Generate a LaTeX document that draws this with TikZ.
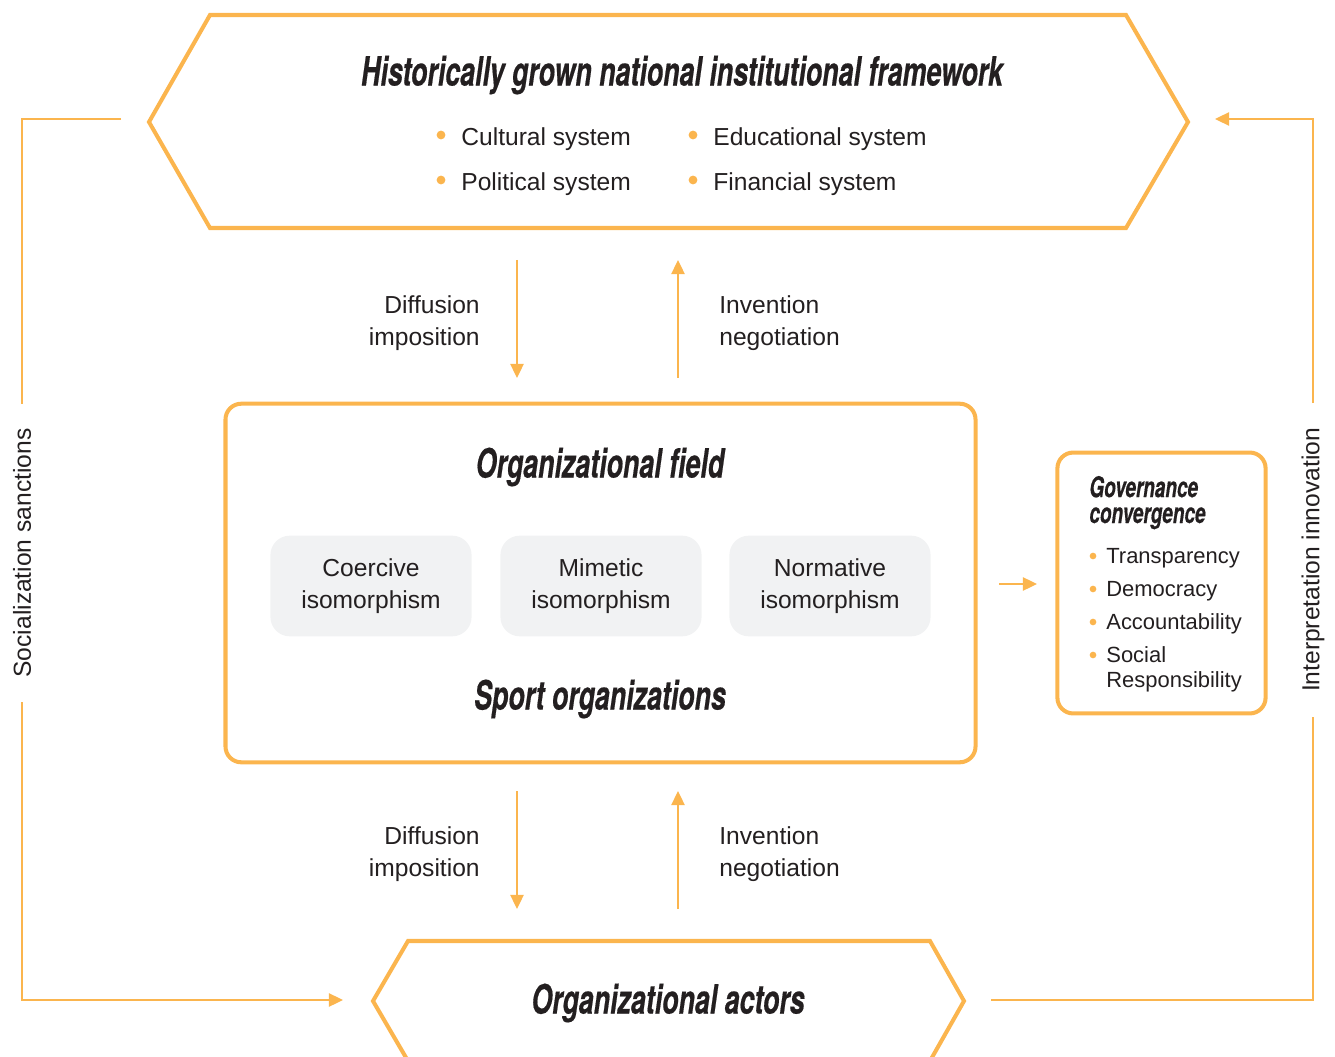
\documentclass[tikz,border=0pt]{standalone}
\usepackage{fontspec}
\setmainfont{Liberation Sans}
\newfontfamily\headfont[FakeStretch=0.663, FakeBold=0.4]{TeX Gyre Heros}
\usetikzlibrary{arrows.meta,positioning}
\definecolor{amber}{HTML}{FBB54E}
\definecolor{ink}{HTML}{231F20}
\definecolor{chip}{HTML}{F1F2F3}

\begin{document}
\begin{tikzpicture}[x=0.02cm, y=-0.02cm,
  every node/.style={text=ink, inner sep=0pt, font=\fontsize{14}{18.4}\selectfont},
  frame/.style={draw=amber, line width=2.3pt},
  flow/.style={amber, line width=1.1pt, -{Triangle[length=8pt,width=7.5pt]}},
  feedback/.style={amber, line width=1.1pt},
  headline/.style={font=\headfont\bfseries\itshape\fontsize{23}{27}\selectfont},
  chipbox/.style={fill=chip, rounded corners=11pt, minimum width=114.5pt,
    minimum height=57.3pt, align=center},
  bullet/.style={fill=amber}]
  \useasboundingbox (0,0) rectangle (1335,1057);

  % national framework (top) and actors (bottom)
  \draw[frame] (210,15) -- (1126,15) -- (1188,122) -- (1126,228)
    -- (210,228) -- (149,122) -- cycle;
  \draw[frame] (408,941) -- (930,941) -- (964,1001) -- (930,1061)
    -- (408,1061) -- (373,1001) -- cycle;

  \node[headline] (national) at (682,75) {Historically grown national institutional framework};
  \foreach \lbl/\x/\y [count=\i] in
    {Cultural system/461/146, Political system/461/191,
     Educational system/713/146, Financial system/713/191}
  {
    \fill[bullet] (\x-20,\y-11) circle (2.5pt);
    \node[anchor=base west] (sys\i) at (\x,\y) {\lbl};
  }

  \node[headline] (actors) at (668,1003) {Organizational actors};

  % organizational field
  \node[frame, rounded corners=9pt, minimum width=426.9pt, minimum height=204.1pt]
    (field) at (600.5,583) {};
  \node[headline] (fieldtitle) at (600,467) {Organizational field};
  \node[chipbox] (coercive) at (371,586) {Coercive\\isomorphism};
  \node[chipbox] (mimetic) at (601,586) {Mimetic\\isomorphism};
  \node[chipbox] (normative) at (830,586) {Normative\\isomorphism};
  \node[headline] (sport) at (600,699) {Sport organizations};

  % governance outcome
  \node[frame, rounded corners=9pt, minimum width=118.5pt, minimum height=148.5pt]
    (gov) at (1161.5,583) {};
  \node[anchor=base west, align=left,
    font=\headfont\bfseries\itshape\fontsize{16.3}{14.7}\selectfont]
    (govtitle) at (1089,523) {Governance\\convergence};
  \foreach \lbl/\y [count=\i] in
    {Transparency/563, Democracy/596, Accountability/629, Social/662}
  {
    \fill[bullet] (1093,\y-7) circle (1.9pt);
    \node[anchor=base west, font=\fontsize{12.5}{14}\selectfont] (item\i) at (1106,\y) {\lbl};
  }
  \node[anchor=base west, font=\fontsize{12.5}{14}\selectfont] (item5) at (1106,687) {Responsibility};

  \coordinate (govin) at (999,584);
  \coordinate (govat) at (1037,584);
  \draw[flow] (govin) -- (govat);

  % vertical exchange
  \coordinate (downA) at (517,260);
  \coordinate (downB) at (517,378);
  \coordinate (upA) at (678,378);
  \coordinate (upB) at (678,260);
  \coordinate (downC) at (517,791);
  \coordinate (downD) at (517,909);
  \coordinate (upC) at (678,909);
  \coordinate (upD) at (678,791);
  \draw[flow] (downA) -- (downB);
  \draw[flow] (upA) -- (upB);
  \draw[flow] (downC) -- (downD);
  \draw[flow] (upC) -- (upD);

  \node[anchor=east, align=right] (diffA) at (480,323) {Diffusion\\imposition};
  \node[anchor=west, align=left] (invA) at (719,323) {Invention\\negotiation};
  \node[anchor=east, align=right] (diffB) at (480,854) {Diffusion\\imposition};
  \node[anchor=west, align=left] (invB) at (719,854) {Invention\\negotiation};

  % feedback loops at the sides
  \node[rotate=90, inner xsep=14pt] (social) at (22,553) {Socialization sanctions};
  \node[rotate=90, inner xsep=14pt] (interp) at (1313,560) {Interpretation innovation};

  \coordinate (leftout) at (121,119);
  \coordinate (leftin) at (343,1000);
  \coordinate (rightout) at (991,1000);
  \coordinate (rightin) at (1215,119);
  \draw[feedback] (leftout) -| (social.east);
  \draw[feedback, -{Triangle[length=8pt,width=7.5pt]}] (social.west) |- (leftin);
  \draw[feedback] (rightout) -| (interp.west);
  \draw[feedback, -{Triangle[length=8pt,width=7.5pt]}] (interp.east) |- (rightin);
\end{tikzpicture}
\end{document}
